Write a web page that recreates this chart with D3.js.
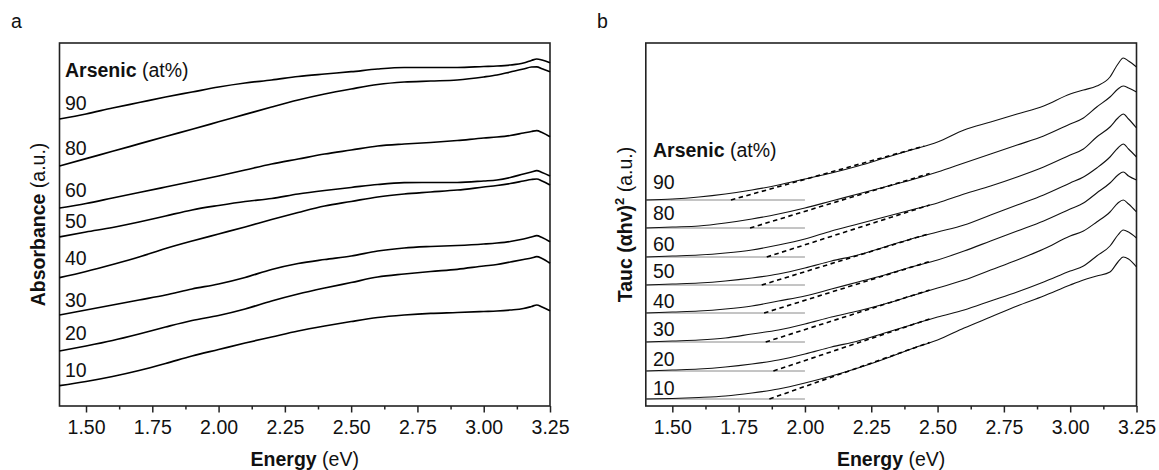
<!DOCTYPE html>
<html>
<head>
<meta charset="utf-8">
<script src="https://cdn.jsdelivr.net/npm/d3@7/dist/d3.min.js"></script>
<style>
  html, body { margin: 0; padding: 0; background: #fff; }
  svg { display: block; font-family: "Liberation Sans", Arial, Helvetica, sans-serif; }
</style>
</head>
<body>
<svg id="chart" width="1159" height="470"></svg>
<script>
// Photon energy grid (eV) shared by every spectrum
const energy = [1.40, 1.50, 1.60, 1.70, 1.80, 1.90, 2.00, 2.10, 2.20, 2.30, 2.40, 2.50,
                2.60, 2.70, 2.80, 2.90, 3.00, 3.05, 3.10, 3.15, 3.18, 3.20, 3.22, 3.25];

// Arsenic content of each film (at%)
const arsenic = [10, 20, 30, 40, 50, 60, 80, 90];

// Panel a: absorbance spectra (a.u., already stacked)
const abs10 = [0.203, 0.245, 0.295, 0.355, 0.425, 0.500, 0.565, 0.630, 0.690, 0.750, 0.800, 0.845, 0.885, 0.910, 0.927, 0.935, 0.945, 0.950, 0.960, 0.975, 0.995, 1.010, 0.990, 0.953];
const abs20 = [0.550, 0.600, 0.655, 0.720, 0.790, 0.855, 0.905, 0.970, 1.050, 1.120, 1.180, 1.235, 1.290, 1.320, 1.345, 1.367, 1.400, 1.415, 1.440, 1.465, 1.480, 1.493, 1.475, 1.427];
const abs30 = [0.910, 0.960, 1.010, 1.060, 1.110, 1.170, 1.220, 1.285, 1.365, 1.425, 1.465, 1.500, 1.550, 1.580, 1.595, 1.605, 1.620, 1.630, 1.645, 1.670, 1.690, 1.703, 1.685, 1.643];
const abs40 = [1.283, 1.345, 1.415, 1.490, 1.575, 1.650, 1.720, 1.790, 1.865, 1.935, 2.000, 2.045, 2.090, 2.120, 2.140, 2.160, 2.190, 2.205, 2.225, 2.250, 2.265, 2.270, 2.250, 2.210];
const abs50 = [1.690, 1.740, 1.785, 1.840, 1.900, 1.960, 2.005, 2.045, 2.075, 2.120, 2.155, 2.185, 2.215, 2.233, 2.235, 2.235, 2.250, 2.260, 2.285, 2.320, 2.340, 2.353, 2.335, 2.300];
const abs60 = [1.980, 2.025, 2.080, 2.135, 2.190, 2.245, 2.300, 2.360, 2.420, 2.470, 2.520, 2.560, 2.600, 2.620, 2.635, 2.655, 2.680, 2.690, 2.705, 2.730, 2.745, 2.753, 2.735, 2.693];
const abs80 = [2.400, 2.474, 2.547, 2.621, 2.695, 2.768, 2.842, 2.916, 2.990, 3.060, 3.120, 3.170, 3.215, 3.240, 3.250, 3.260, 3.290, 3.310, 3.340, 3.370, 3.390, 3.392, 3.372, 3.343];
const abs90 = [2.870, 2.920, 2.980, 3.035, 3.090, 3.140, 3.190, 3.230, 3.260, 3.295, 3.320, 3.343, 3.370, 3.385, 3.385, 3.385, 3.395, 3.400, 3.410, 3.430, 3.455, 3.470, 3.460, 3.433];
const absorbance = [abs10, abs20, abs30, abs40, abs50, abs60, abs80, abs90];
const absLabelY = [0.293, 0.660, 0.993, 1.410, 1.777, 2.093, 2.510, 2.960];

// Panel b: Tauc plots (αhν)² above each trace's own baseline (a.u.)
const tauc10 = [0, 0.005, 0.015, 0.03, 0.06, 0.10, 0.16, 0.23, 0.31, 0.40, 0.50, 0.59, 0.71, 0.82, 0.93, 1.03, 1.14, 1.19, 1.23, 1.27, 1.37, 1.42, 1.40, 1.32];
const tauc20 = [0, 0.01, 0.02, 0.04, 0.07, 0.11, 0.17, 0.24, 0.30, 0.38, 0.46, 0.54, 0.61, 0.70, 0.79, 0.89, 1.00, 1.05, 1.15, 1.25, 1.36, 1.41, 1.39, 1.33];
const tauc30 = [0, 0.01, 0.02, 0.04, 0.08, 0.12, 0.18, 0.25, 0.31, 0.38, 0.46, 0.54, 0.62, 0.72, 0.82, 0.93, 1.06, 1.11, 1.20, 1.30, 1.39, 1.42, 1.38, 1.30];
const tauc40 = [0, 0.01, 0.02, 0.04, 0.07, 0.12, 0.17, 0.24, 0.31, 0.38, 0.46, 0.53, 0.62, 0.72, 0.82, 0.92, 1.04, 1.10, 1.20, 1.30, 1.38, 1.41, 1.37, 1.33];
const tauc50 = [0, 0.01, 0.02, 0.04, 0.07, 0.11, 0.17, 0.24, 0.30, 0.38, 0.46, 0.53, 0.60, 0.70, 0.80, 0.90, 1.02, 1.08, 1.17, 1.28, 1.37, 1.41, 1.36, 1.28];
const tauc60 = [0, 0.01, 0.02, 0.04, 0.07, 0.12, 0.18, 0.26, 0.33, 0.40, 0.47, 0.54, 0.63, 0.71, 0.80, 0.90, 1.02, 1.08, 1.20, 1.30, 1.39, 1.43, 1.38, 1.29];
const tauc80 = [0, 0.01, 0.02, 0.05, 0.09, 0.14, 0.20, 0.27, 0.34, 0.41, 0.48, 0.56, 0.65, 0.74, 0.83, 0.92, 1.04, 1.10, 1.21, 1.31, 1.39, 1.42, 1.40, 1.36];
const tauc90 = [0, 0.01, 0.03, 0.06, 0.10, 0.15, 0.21, 0.27, 0.34, 0.42, 0.50, 0.58, 0.70, 0.78, 0.86, 0.94, 1.06, 1.10, 1.14, 1.23, 1.36, 1.42, 1.39, 1.33];
const tauc = [tauc10, tauc20, tauc30, tauc40, tauc50, tauc60, tauc80, tauc90];
const taucOffset = [0.07, 0.35, 0.64, 0.93, 1.21, 1.49, 1.78, 2.06];
const taucLabelY = [0.11, 0.40, 0.70, 0.977, 1.277, 1.553, 1.86, 2.17];

// Linear fits: intercept with the baseline (optical gap, eV) and upper end of the fit
const gapEnergy = [1.866, 1.881, 1.852, 1.846, 1.837, 1.856, 1.793, 1.721];
const fitEndEnergy = [2.47, 2.47, 2.47, 2.47, 2.47, 2.47, 2.47, 2.45];
const fitEndValue = [0.565, 0.52, 0.52, 0.515, 0.515, 0.52, 0.545, 0.54];
const baselineEnd = 2.00;

// Axis ticks
const majorTicks = [1.50, 1.75, 2.00, 2.25, 2.50, 2.75, 3.00, 3.25];
const minorTicks = [1.625, 1.875, 2.125, 2.375, 2.625, 2.875, 3.125];

const svg = d3.select("#chart");
const FS = 19.5;
const plotTop = 43, plotBottom = 406;

function panel(x0, x1, letter, letterX) {
  const x = d3.scaleLinear().domain([1.40, 3.25]).range([x0, x1]);
  const y = d3.scaleLinear().domain([0, 3.63]).range([plotBottom, plotTop]);
  const g = svg.append("g");

  const major = d3.axisBottom(x).tickValues(majorTicks).tickFormat(d3.format(".2f")).tickSize(6.5).tickSizeOuter(0);
  const ax = g.append("g").attr("transform", `translate(0,${plotBottom})`).call(major);
  ax.select(".domain").remove();
  ax.selectAll(".tick line").attr("stroke", "#222").attr("stroke-width", 1.5);
  ax.selectAll(".tick text").attr("y", 27.5).attr("dy", 0).attr("fill", "#111")
    .style("font-size", FS + "px").style("font-family", "inherit");

  const minor = d3.axisBottom(x).tickValues(minorTicks).tickFormat("").tickSize(3.5).tickSizeOuter(0);
  const mx = g.append("g").attr("transform", `translate(0,${plotBottom})`).call(minor);
  mx.select(".domain").remove();
  mx.selectAll(".tick line").attr("stroke", "#222").attr("stroke-width", 1.5);

  g.append("rect").attr("x", x0).attr("y", plotTop).attr("width", x1 - x0).attr("height", plotBottom - plotTop)
    .attr("fill", "none").attr("stroke", "#222").attr("stroke-width", 1.6);

  const xt = g.append("text").attr("x", (x0 + x1) / 2).attr("y", 466).attr("text-anchor", "middle")
    .style("font-size", FS + "px").attr("fill", "#111");
  xt.append("tspan").attr("font-weight", "bold").text("Energy");
  xt.append("tspan").text(" (eV)");

  svg.append("text").attr("x", letterX).attr("y", 27.5).style("font-size", FS + "px").attr("fill", "#111").text(letter);
  return { g, x, y };
}

// ---- Panel a: absorbance ----
const A = panel(59.5, 550, "a", 11);
const lineA = d3.line().x((d, i) => A.x(energy[i])).y(d => A.y(d)).curve(d3.curveMonotoneX);
A.g.selectAll("path.abs").data(absorbance).join("path").attr("class", "abs")
  .attr("d", lineA).attr("fill", "none").attr("stroke", "#000").attr("stroke-width", 1.7);
A.g.selectAll("text.lab").data(arsenic).join("text").attr("class", "lab")
  .attr("x", 65).attr("y", (d, i) => A.y(absLabelY[i])).style("font-size", FS + "px").attr("fill", "#111").text(d => d);
{
  const t = A.g.append("text").attr("x", 65).attr("y", A.y(3.29)).style("font-size", FS + "px").attr("fill", "#111");
  t.append("tspan").attr("font-weight", "bold").text("Arsenic");
  t.append("tspan").text(" (at%)");
}
{
  const t = svg.append("text").attr("transform", `translate(44.5,${(plotTop + plotBottom) / 2}) rotate(-90)`)
    .attr("text-anchor", "middle").style("font-size", FS + "px").attr("fill", "#111");
  t.append("tspan").attr("font-weight", "bold").text("Absorbance");
  t.append("tspan").text(" (a.u.)");
}

// ---- Panel b: Tauc plots ----
const B = panel(645.8, 1136.5, "b", 597);
// baselines
B.g.selectAll("line.base").data(taucOffset).join("line").attr("class", "base")
  .attr("x1", B.x(1.40)).attr("x2", B.x(baselineEnd)).attr("y1", d => B.y(d)).attr("y2", d => B.y(d))
  .attr("stroke", "#8a8a8a").attr("stroke-width", 1);
// traces
const lineB = (s, k) => d3.line().x((d, i) => B.x(energy[i])).y(d => B.y(d + taucOffset[k])).curve(d3.curveMonotoneX)(s);
B.g.selectAll("path.tauc").data(tauc).join("path").attr("class", "tauc")
  .attr("d", (s, k) => lineB(s, k)).attr("fill", "none").attr("stroke", "#111").attr("stroke-width", 1.1);
// linear extrapolations
B.g.selectAll("line.fit").data(gapEnergy).join("line").attr("class", "fit")
  .attr("x1", d => B.x(d)).attr("y1", (d, k) => B.y(taucOffset[k]))
  .attr("x2", (d, k) => B.x(fitEndEnergy[k])).attr("y2", (d, k) => B.y(taucOffset[k] + fitEndValue[k]))
  .attr("stroke", "#000").attr("stroke-width", 1.6).attr("stroke-dasharray", "4.5,3.5");
B.g.selectAll("text.lab").data(arsenic).join("text").attr("class", "lab")
  .attr("x", 653).attr("y", (d, i) => B.y(taucLabelY[i])).style("font-size", FS + "px").attr("fill", "#111").text(d => d);
{
  const t = B.g.append("text").attr("x", 653).attr("y", B.y(2.493)).style("font-size", FS + "px").attr("fill", "#111");
  t.append("tspan").attr("font-weight", "bold").text("Arsenic");
  t.append("tspan").text(" (at%)");
}
{
  const t = svg.append("text").attr("transform", `translate(631.5,${(plotTop + plotBottom) / 2}) rotate(-90)`)
    .attr("text-anchor", "middle").style("font-size", FS + "px").attr("fill", "#111");
  t.append("tspan").attr("font-weight", "bold").text("Tauc (\u03B1hv)");
  t.append("tspan").attr("font-weight", "bold").attr("dy", -7.5).style("font-size", "13px").text("2");
  t.append("tspan").attr("dy", 7.5).text(" (a.u.)");
}
</script>
</body>
</html>
